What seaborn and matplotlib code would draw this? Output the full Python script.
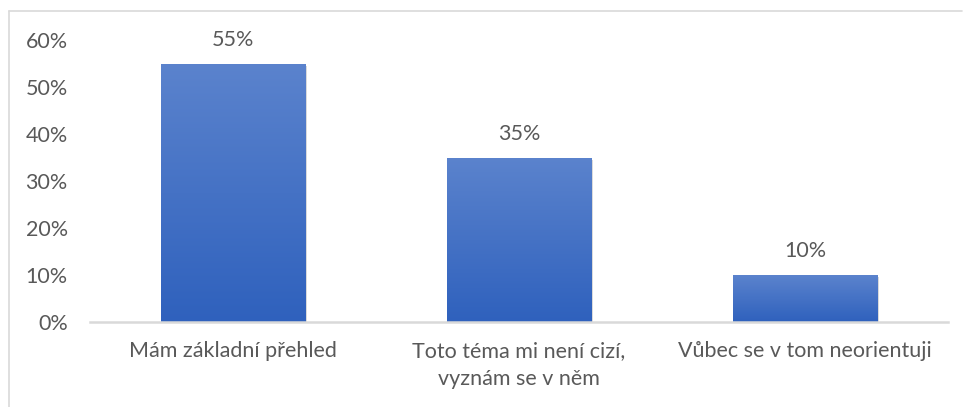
import numpy as np
import pandas as pd
import seaborn as sns
import matplotlib.pyplot as plt
import matplotlib.patheffects as pe
from matplotlib.lines import Line2D
from matplotlib.colors import LinearSegmentedColormap

categories = ["Mám základní přehled", "Toto téma mi není cizí,\nvyznám se v něm", "Vůbec se v tom neorientuji"]
values = [55, 35, 10]
yticks = [0, 10, 20, 30, 40, 50, 60]

df = pd.DataFrame({"Odpověď": categories, "Podíl": values})

sns.set_style("white")
plt.rcParams['font.family'] = ['Lato', 'DejaVu Sans']

text_color = "#595959"
fs = 15.5
fig = plt.figure(figsize=(9.63, 4.07), dpi=100)
ax = fig.add_axes([90 / 963, 1 - 322 / 407, 858 / 963, 282 / 407])

ax = sns.barplot(x="Odpověď", y="Podíl", data=df, color="#4472c4", width=0.504, ax=ax, saturation=1)

# gradient fill for each bar, light on top, darker at bottom
grad = LinearSegmentedColormap.from_list("bar", ["#2f61bd", "#5b83cd"])
g = np.linspace(0, 1, 256).reshape(-1, 1)
for bar in ax.patches:
    x0, w, h = bar.get_x(), bar.get_width(), bar.get_height()
    bar.set_path_effects([pe.SimplePatchShadow(offset=(1.5, -1.5), shadow_rgbFace="#000000", alpha=0.18),
                          pe.Normal()])
    im = ax.imshow(g, cmap=grad, aspect="auto", extent=(x0, x0 + w, 0, h), origin="lower", zorder=bar.get_zorder() + 0.1)
    im.set_clip_path(bar)
    ax.annotate(f"{h:.0f}%", (x0 + w / 2, h), xytext=(0, 10), textcoords="offset points",
                ha="center", va="bottom", fontsize=fs, color=text_color)

ax.set_xlim(-0.5, 2.5)
ax.set_ylim(0, 60)
ax.set_yticks(yticks)
ax.set_yticklabels([f"{t}%" for t in yticks])
ax.set(xlabel="", ylabel="")
ax.tick_params(axis="both", length=0, labelsize=fs, colors=text_color)
ax.tick_params(axis="x", pad=14)
ax.tick_params(axis="y", pad=16)
for lbl in ax.get_xticklabels():
    lbl.set_linespacing(1.45)

for s in ["top", "right", "left"]:
    ax.spines[s].set_visible(False)
ax.spines["bottom"].set_color("#d9d9d9")
ax.spines["bottom"].set_linewidth(1.8)

# chart border (top and left edge)
fig.add_artist(Line2D([9 / 963, 962 / 963], [1 - 11 / 407, 1 - 11 / 407], color="#d9d9d9", lw=1.2))
fig.add_artist(Line2D([9 / 963, 9 / 963], [0, 1 - 11 / 407], color="#d9d9d9", lw=1.2))

plt.savefig("out.png", dpi=100)
